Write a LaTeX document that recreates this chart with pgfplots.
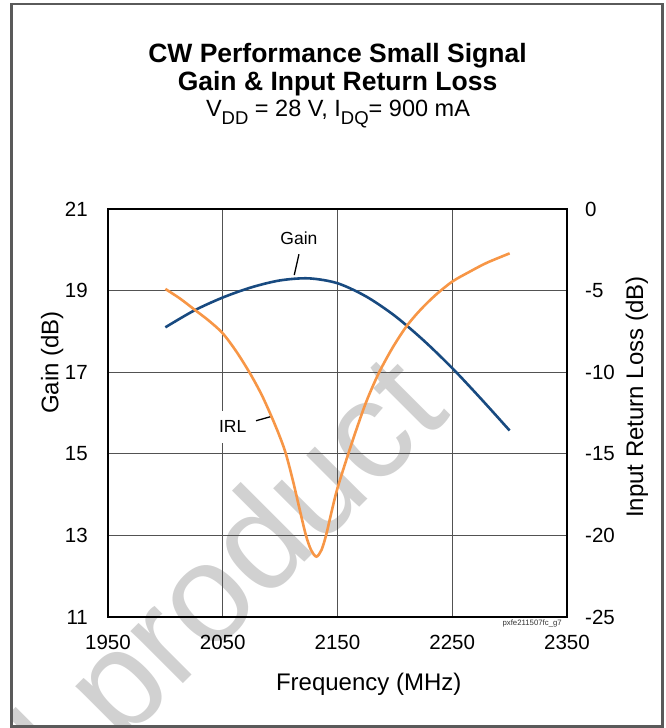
\documentclass[border=0pt]{standalone}
\usepackage{fontspec}
\setmainfont{Liberation Sans}
\usepackage{pgfplots}
\usepackage{pgfplotstable}
\pgfplotsset{compat=1.18}
\definecolor{gainblue}{RGB}{24,74,128}
\definecolor{irlorange}{RGB}{247,150,70}
\definecolor{framegray}{RGB}{90,90,90}
\definecolor{wmgray}{RGB}{209,209,209}

\pgfplotstableread{
f g
2000 18.10
2025 18.51
2050 18.83
2075 19.08
2100 19.25
2125 19.30
2150 19.18
2175 18.855
2200 18.38
2225 17.78
2250 17.10
2275 16.35
2300 15.57
}\gaindata

\pgfplotstableread{
f irl
2000 -4.9
2013 -5.5
2026 -6.2
2038 -6.85
2050 -7.62
2062 -8.75
2074 -10.1
2084 -11.4
2093 -12.8
2100 -14.0
2105 -15.0
2111 -16.6
2117 -18.4
2122.5 -20.0
2127 -20.9
2131.6 -21.3
2136 -20.9
2140 -20.0
2145 -18.5
2150 -17.1
2159.4 -15.0
2167 -13.4
2175.4 -11.75
2186 -10.05
2198 -8.5
2210 -7.2
2222 -6.2
2235 -5.3
2250 -4.45
2265 -3.85
2280 -3.3
2300 -2.72
}\irldata

\begin{document}
\begin{tikzpicture}[x=1pt,y=1pt]
% watermark
\begin{scope}
\clip (11.7,1.5) rectangle (662.3,724);
\node[rotate=45, anchor=base east, text=wmgray, inner sep=0pt,
  font=\fontsize{140}{140}\selectfont] at (452,313) {d product};
\end{scope}
\draw[framegray, line width=2.5pt] (11.7,1.5) rectangle (662.3,724);

% titles
\node[anchor=base, inner sep=0pt, font=\fontsize{26.5}{30}\selectfont\bfseries] at (337.5,665.7) {CW Performance Small Signal};
\node[anchor=base, inner sep=0pt, font=\fontsize{26.5}{30}\selectfont\bfseries] at (337.5,637) {Gain \& Input Return Loss};
\node[anchor=base, inner sep=0pt, font=\fontsize{23.5}{28}\selectfont] at (338,611.3)
  {V\raisebox{-8pt}{\fontsize{18.5}{20}\selectfont DD} = 28 V, I\raisebox{-8pt}{\fontsize{18.5}{20}\selectfont DQ}= 900 mA};

\begin{axis}[
  width=459pt, height=408pt, scale only axis,
  at={(108pt,111pt)}, anchor=south west,
  xmin=1950, xmax=2350, ymin=11, ymax=21,
  xtick={1950,2050,...,2350}, ytick={11,13,...,21},
  grid=major,
  major grid style={black!68, line width=1.1pt},
  axis line style={black, line width=1.5pt},
  major tick length=0pt,
  tick label style={font=\fontsize{20.5}{24}\selectfont, inner sep=0pt},
  /pgf/number format/assume math mode=true,
  /pgf/number format/set thousands separator={},
  yticklabel style={xshift=-20pt},
  xticklabel style={yshift=-18pt},
  xlabel={Frequency (MHz)}, ylabel={Gain (dB)},
  every axis x label/.style={at={(axis description cs:0.568,-0.179)}, anchor=base, font=\fontsize{24}{28}\selectfont, inner sep=0pt},
  every axis y label/.style={at={(axis description cs:-0.108,0.624)}, anchor=base, rotate=90, font=\fontsize{24}{28}\selectfont, inner sep=0pt},
]
\addplot[gainblue, line width=2.6pt, smooth] table[x=f, y=g] {\gaindata};
\node[fill=white, inner xsep=3pt, inner ysep=10pt, font=\fontsize{17.5}{20}\selectfont] at (axis cs:2058.7,15.66) {IRL};
\node[inner sep=0pt, font=\fontsize{17.5}{20}\selectfont] at (axis cs:2116.4,20.29) {Gain};
\draw[black, line width=1.3pt] (axis cs:2116.4,19.89) -- (axis cs:2112.3,19.38);
\draw[black, line width=1.3pt] (axis cs:2079,15.81) -- (axis cs:2091.7,15.91);
\end{axis}

\begin{axis}[
  width=459pt, height=408pt, scale only axis,
  at={(108pt,111pt)}, anchor=south west,
  xmin=1950, xmax=2350, ymin=-25, ymax=0,
  ytick={-25,-20,...,0},
  axis x line=none, axis y line*=right,
  axis line style={black, line width=1.5pt},
  major tick length=0pt,
  tick label style={font=\fontsize{20.5}{24}\selectfont, inner sep=0pt},
  /pgf/number format/assume math mode=true,
  yticklabel style={xshift=18pt},
  ylabel={Input Return Loss (dB)},
  every axis y label/.style={at={(axis description cs:1.166,0.539)}, anchor=base, rotate=90, font=\fontsize{24}{28}\selectfont, inner sep=0pt},
]
\addplot[irlorange, line width=2.6pt, smooth] table[x=f, y=irl] {\irldata};
\end{axis}

\node[anchor=east, inner sep=0pt, text=black!80, font=\fontsize{7.8}{9}\selectfont] at (562,104.5) {pxfe211507fc\_g7};

\pgfresetboundingbox
\path[use as bounding box] (0,0) rectangle (665,728);
\end{tikzpicture}
\end{document}
